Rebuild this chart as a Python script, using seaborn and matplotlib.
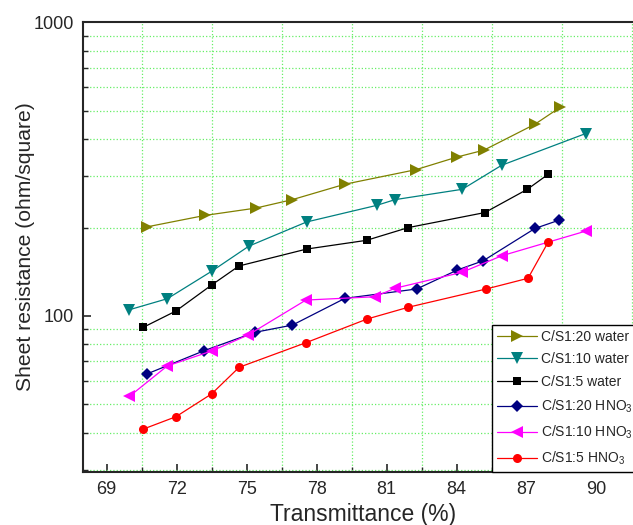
import numpy as np
import pandas as pd
import seaborn as sns
import matplotlib.pyplot as plt
from matplotlib.ticker import MultipleLocator, LogLocator, FixedLocator, FixedFormatter, NullFormatter

# Data
labels = ['C/S1:20 water', 'C/S1:10 water', 'C/S1:5 water',
          'C/S1:20 HNO$_3$', 'C/S1:10 HNO$_3$', 'C/S1:5 HNO$_3$']

x_20w = [70.71, 73.21, 75.39, 76.96, 79.21, 82.26, 84.03, 85.17, 87.36, 88.43]
y_20w = [201, 220, 233, 249, 281, 315, 348, 367, 450, 513]

x_10w = [69.97, 71.60, 73.50, 75.10, 77.57, 80.57, 81.36, 84.24, 85.93, 89.53]
y_10w = [105, 114.5, 142, 173, 209, 238, 249, 270, 326, 418]

x_5w = [70.57, 71.97, 73.50, 74.67, 77.57, 80.14, 81.93, 85.21, 87.03, 87.93]
y_5w = [91.5, 104, 127.5, 148, 169, 181, 200, 225, 270, 304]

x_20h = [70.71, 73.18, 75.36, 76.96, 79.21, 82.29, 84.03, 85.14, 87.36, 88.40]
y_20h = [63.4, 76.2, 88.0, 93.1, 114.8, 123.6, 143.4, 154.2, 198.7, 212.1]

x_10h = [69.97, 71.60, 73.50, 75.07, 77.54, 80.50, 81.36, 84.22, 85.93, 89.53]
y_10h = [53.2, 67.6, 76.0, 86.2, 113.3, 116.3, 124.3, 140.8, 160.3, 194.5]

x_5h = [70.57, 71.97, 73.50, 74.68, 77.54, 80.17, 81.93, 85.27, 87.06, 87.93]
y_5h = [41.2, 45.4, 54.3, 66.9, 81.1, 97.7, 107.1, 123.6, 134.4, 178.9]

xs = [x_20w, x_10w, x_5w, x_20h, x_10h, x_5h]
ys = [y_20w, y_10w, y_5w, y_20h, y_10h, y_5h]
colors = ['#808000', '#008080', '#000000', '#000080', '#ff00ff', '#ff0000']
markers = ['>', 'v', 's', 'D', '<', 'o']
msizes = [8, 8, 6, 6, 8, 6.5]

sns.set_style('ticks')
plt.rcParams['font.family'] = ['Liberation Sans', 'DejaVu Sans']
plt.rcParams['mathtext.default'] = 'regular'

fig = plt.figure(figsize=(6.33, 5.25), dpi=100)
ax = fig.add_axes([83.3 / 633, 53.3 / 525, 560 / 633, 449.4 / 525])

for lab, xv, yv, c, m, ms in zip(labels, xs, ys, colors, markers, msizes):
    df = pd.DataFrame({'x': xv, 'y': yv})
    sns.lineplot(data=df, x='x', y='y', ax=ax, sort=False, estimator=None,
                 color=c, marker=m, markersize=ms, markeredgewidth=0,
                 linewidth=0.9, label=lab)

ax.set_yscale('log')
ax.set_xlim(68, 92)
ax.set_ylim(29.5, 1000)

ax.xaxis.set_major_locator(MultipleLocator(3))
ax.xaxis.set_minor_locator(FixedLocator(np.arange(70.5, 92, 3)))
ax.yaxis.set_major_locator(FixedLocator([100, 1000]))
ax.yaxis.set_major_formatter(FixedFormatter(['100', '1000']))
ax.yaxis.set_minor_locator(LogLocator(base=10, subs=np.arange(2, 10)))
ax.yaxis.set_minor_formatter(NullFormatter())

ax.grid(which='minor', color='#66ee66', linestyle=':', linewidth=0.9)
ax.grid(which='major', visible=False)

ax.tick_params(which='major', direction='in', length=6, width=1.2,
               labelsize=13, pad=7)
ax.tick_params(which='minor', direction='in', length=3.5, width=1.0)
ax.tick_params(axis='x', which='both', top=False)
ax.tick_params(axis='y', which='both', right=False)
for s in ax.spines.values():
    s.set_linewidth(1.5)

ax.set_xlabel('Transmittance (%)', fontsize=16.5, labelpad=3)
ax.set_ylabel('Sheet resistance (ohm/square)', fontsize=15.2, labelpad=-1)

leg = ax.legend(loc='lower left', bbox_to_anchor=(491.7 / 633, 53.3 / 525),
                bbox_transform=fig.transFigure, borderaxespad=0,
                fontsize=10, handlelength=2.9, labelspacing=0.62,
                frameon=True, fancybox=False, edgecolor='black',
                borderpad=0.35, handletextpad=0.3)
leg.get_frame().set_linewidth(1.0)
leg.get_frame().set_alpha(1)

fig.savefig('out.png', dpi=100)
